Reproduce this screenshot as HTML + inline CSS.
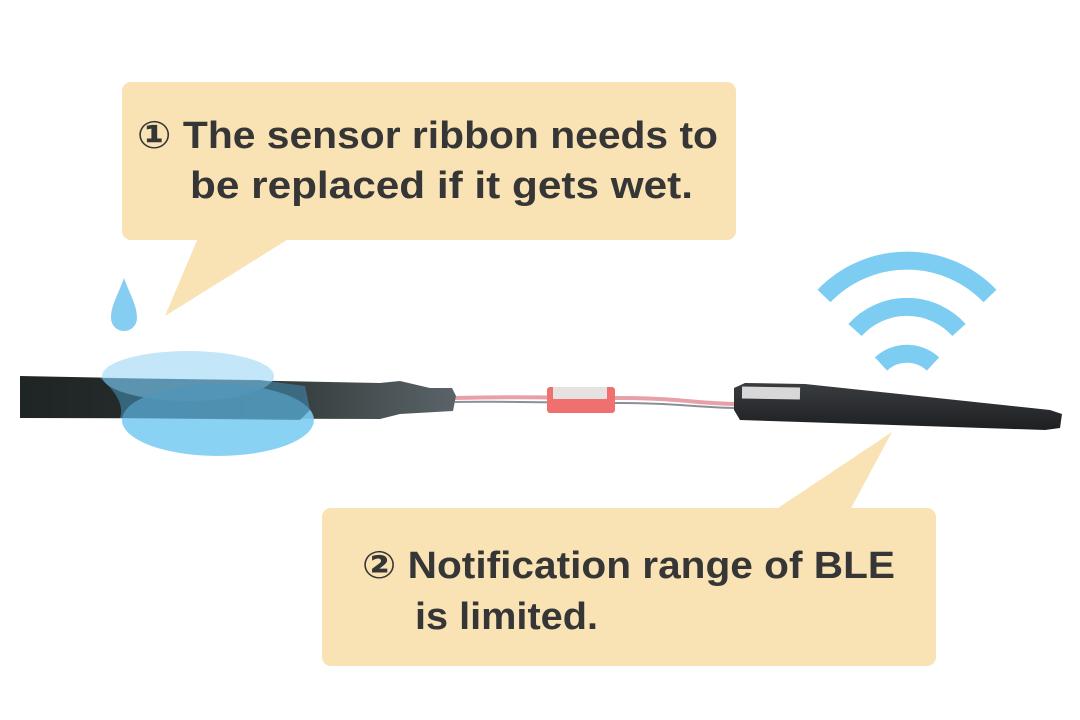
<!DOCTYPE html>
<html><head><meta charset="utf-8"><style>
html,body{margin:0;padding:0;background:#fff;}
svg{display:block}
text{font-family:"Liberation Sans","DejaVu Sans",sans-serif;font-weight:bold;fill:#363636;}
</style></head><body>
<svg width="1080" height="720" viewBox="0 0 1080 720" xmlns="http://www.w3.org/2000/svg">
<defs>
<linearGradient id="cab" x1="0" y1="0" x2="1" y2="0">
<stop offset="0" stop-color="#1f2424"/><stop offset="0.5" stop-color="#2a3030"/><stop offset="1" stop-color="#5a6468"/>
</linearGradient>
<linearGradient id="bar" x1="0" y1="0" x2="0" y2="1">
<stop offset="0" stop-color="#3a3d40"/><stop offset="1" stop-color="#1d1f21"/>
</linearGradient>
</defs>
<rect x="122" y="82" width="614" height="158" rx="9" fill="#f9e2b3"/>
<polygon points="198,238 290,238 165,316" fill="#f9e2b3"/>
<text x="137" y="148" font-size="38" textLength="581" lengthAdjust="spacingAndGlyphs">① The sensor ribbon needs to</text>
<text x="190" y="198" font-size="38" textLength="503" lengthAdjust="spacingAndGlyphs">be replaced if it gets wet.</text>
<rect x="322" y="508" width="614" height="158" rx="9" fill="#f9e2b3"/>
<polygon points="775,510 850,510 892,432" fill="#f9e2b3"/>
<text x="362" y="578" font-size="38" textLength="533" lengthAdjust="spacingAndGlyphs">② Notification range of BLE</text>
<text x="415" y="629" font-size="38" textLength="183" lengthAdjust="spacingAndGlyphs">is limited.</text>
<path d="M124,278 C118,295 111,305 111,318 A13,13 0 0 0 137,318 C137,305 130,295 124,278 Z" fill="#86cdf2"/>
<g fill="none" stroke="#7dcdf3" stroke-width="18">
<path d="M824,296 A115,115 0 0 1 990,296"/>
<path d="M855,330 A70,70 0 0 1 959,330"/>
<path d="M881,364 A38,38 0 0 1 933,364"/>
</g>
<path d="M455,398 C520,396 560,398 620,398 C680,398 700,404 740,404" stroke="#e8a0a8" stroke-width="4" fill="none"/>
<path d="M455,402 C520,401 560,403 620,403 C680,403 700,408 740,408" stroke="#8a9098" stroke-width="2" fill="none"/>
<rect x="547" y="387" width="68" height="26" rx="3" fill="#f07070"/>
<rect x="553" y="387" width="54" height="12" fill="#e6e2e2"/>
<path d="M20,376 L380,383 L400,381 L430,388 L452,388 L456,396 L453,411 L400,414 L380,419 L20,418 Z" fill="url(#cab)"/>
<polygon points="734,388 745,383 805,384 1050,410 1062,414 1060,428 1045,430 740,420 734,410" fill="url(#bar)"/>
<rect x="742" y="387" width="58" height="12" fill="#d8d8d8" transform="rotate(1 770 393)"/>
<ellipse cx="188" cy="376" rx="86" ry="25" fill="#b8e2f7" opacity="0.85"/>
<ellipse cx="218" cy="420" rx="96" ry="36" fill="#7dcdf3" opacity="0.9"/>
<path d="M100,378 L260,380 L305,386 L310,410 L300,420 L120,418 Q126,400 100,378 Z" fill="#3f7e9c" opacity="0.7"/>
</svg>
</body></html>
